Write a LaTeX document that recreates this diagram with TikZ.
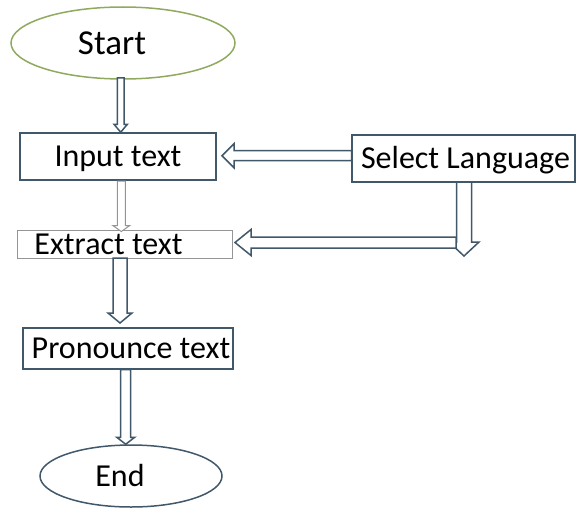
\documentclass[tikz,border=0pt]{standalone}
\usepackage{fontspec}
\setmainfont{Carlito}
\usetikzlibrary{shapes.geometric,calc}
\definecolor{slate}{HTML}{41586B}
\definecolor{olive}{HTML}{8FAA5E}
\definecolor{lightline}{HTML}{959595}
\newcommand{\blockarrow}[6][]{%
  \path ($(#3)!#6!(#2)$) coordinate (bah);
  \draw[blockarr,#1] ($(#2)!#4!90:(#3)$) -- ($(bah)!#4!90:(#3)$) -- ($(bah)!#5!90:(#3)$) -- (#3)
    -- ($(bah)!#5!-90:(#3)$) -- ($(bah)!#4!-90:(#3)$) -- ($(#2)!#4!-90:(#3)$) -- cycle;
}
\begin{document}
\begin{tikzpicture}[x=1pt,y=-1pt,
  every node/.style={font=\fontsize{32}{38}\selectfont, text height=20.6pt, text depth=0pt, inner sep=0pt},
  box/.style={draw=slate, line width=1.5pt, fill=white, rectangle},
  lightbox/.style={draw=lightline, line width=1pt, fill=white, rectangle},
  oval/.style={ellipse, line width=1.5pt, fill=white},
  blockarr/.style={draw=slate, line width=1.5pt, fill=white, line join=miter},
  lightarr/.style={draw=lightline, line width=1pt}]
\useasboundingbox (0,0) rectangle (577,508);
% nodes
\node[oval, draw=olive, minimum width=224pt, minimum height=72pt, font=\fontsize{35}{42}\selectfont, text height=22.5pt] (start) at (123,43) {Start\hspace*{22pt}};
\node[box, minimum width=196pt, minimum height=47pt] (input) at (118,156.5) {Input text};
\node[box, minimum width=223pt, minimum height=47pt] (sel) at (463.5,158.5) {\hspace*{4pt}Select Language};
\node[lightbox, minimum width=215pt, minimum height=28pt] (extract) at (124.5,244) {Extract text\hspace*{32pt}};
\node[box, minimum width=210pt, minimum height=41pt] (pron) at (128,348.5) {\hspace*{6pt}Pronounce text};
\node[oval, draw=slate, minimum width=182pt, minimum height=62pt] (end) at (131,476) {End\hspace*{22pt}};
% connector end points
\coordinate (a1s) at (120.7,78);
\coordinate (a1e) at (a1s |- input.north);
\coordinate (a2s) at (121.3,181);
\coordinate (a2e) at (121.3,231.5);
\coordinate (a3s) at (351.5,155.7);
\coordinate (a3e) at (222,155.7);
\coordinate (a4s) at (464,182);
\coordinate (a4e) at (464,256);
\coordinate (a5s) at (456,242.5);
\coordinate (a5e) at (235,242.5);
\coordinate (a6s) at (120,258);
\coordinate (a6e) at (120,323);
\coordinate (a7s) at (125.7,369.5);
\coordinate (a7e) at (a7s |- end.north);
% connectors
\blockarrow{a1s}{a1e}{3.3pt}{6.7pt}{8pt}
\blockarrow[lightarr]{a2s}{a2e}{4pt}{8.5pt}{6pt}
\blockarrow{a3s}{a3e}{5pt}{12pt}{12pt}
\blockarrow{a4s}{a4e}{7.5pt}{15pt}{14pt}
\blockarrow{a5s}{a5e}{5.5pt}{13pt}{16pt}
\blockarrow{a6s}{a6e}{7pt}{12pt}{10pt}
\blockarrow{a7s}{a7e}{5pt}{9pt}{7pt}
\end{tikzpicture}
\end{document}
